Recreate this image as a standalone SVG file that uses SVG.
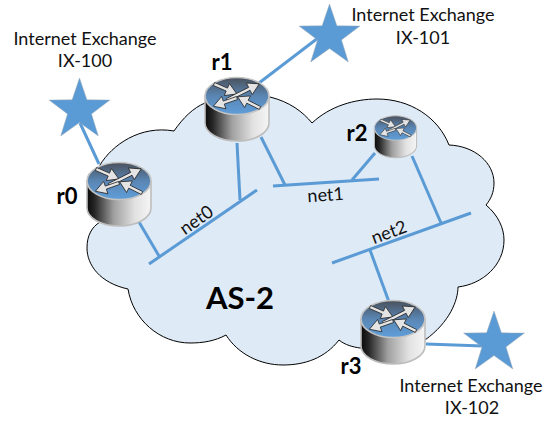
<svg xmlns="http://www.w3.org/2000/svg" xmlns:xlink="http://www.w3.org/1999/xlink" width="552" height="421" viewBox="0 0 552 421">
<style>
.c{stroke:#5b9bd5;stroke-width:3;fill:none}
.t{font-family:"Lato","Liberation Sans",sans-serif;font-size:18px;fill:#111;text-anchor:middle}
.b{font-family:"Lato","Liberation Sans",sans-serif;font-weight:700;font-size:22px;fill:#000;text-anchor:middle}
.s{fill:#5b9bd5;stroke:#9fa8b2;stroke-opacity:.45;stroke-width:1}
.a{fill:#e4e4e4;stroke:#1c1c1c;stroke-width:.7}
</style>
<defs>
<linearGradient id="body" x1="0" x2="1" y1="0" y2="0"><stop offset="0" stop-color="#0a0a0a"/><stop offset=".12" stop-color="#262626"/><stop offset=".42" stop-color="#a0a0a0"/><stop offset=".75" stop-color="#e2e2e2"/><stop offset="1" stop-color="#f5f5f5"/></linearGradient>
<linearGradient id="top" x1="0" x2="0" y1="0" y2="1"><stop offset="0" stop-color="#4a515b"/><stop offset=".5" stop-color="#5a86b4"/><stop offset="1" stop-color="#5f9ed9"/></linearGradient>
<path id="as" class="a" d="M0,-1.6H14V-6.5L25,0L14,6.5V1.6H0Z"/>
<path id="al" class="a" d="M0,-1.6H25V-6.5L36,0L25,6.5V1.6H0Z"/>
<g id="router">
<path d="M-32,0V27A32,18 0 0 0 32,27V0Z" fill="url(#body)" stroke="#bdbdbd" stroke-width="1.6"/>
<ellipse cx="0" cy="0" rx="32" ry="18.5" fill="url(#top)" stroke="#c4c4c4" stroke-width="1.6"/>
<use href="#as" transform="translate(-23,-12) rotate(23.5)"/>
<use href="#al" transform="translate(-10,4) rotate(-26.6)"/>
<use href="#as" transform="translate(0,2) rotate(160.8)"/>
<use href="#as" transform="translate(23,12) rotate(206.6)"/>
</g>
<polygon id="star" class="s" points="0,-32 7.4,-10.2 30.4,-9.9 12,3.9 18.8,25.9 0,12.6 -18.8,25.9 -12,3.9 -30.4,-9.9 -7.4,-10.2"/>
</defs>
<g id="cloud"><path d="M128,289C100,283 87,265 87,248C87,235 92,227 100,222L100,165C112,145 140,125 174,131C183,118 193,108 205,103L270,97C290,102 303,112 312,123C330,106 355,99 377,99C410,99 438,117 449,145C475,146 494,163 494,183C494,192 491,199 486,205C498,215 504,228 504,240C504,265 483,284 458,287C458,300 450,322 425,340L360,348C353,347 345,345 339,340C325,358 305,365 283,365C260,365 238,354 226,335C215,341 203,343 190,343C160,343 133,320 128,289Z" fill="#deeaf6" stroke="#000" stroke-width="1"/></g>
<g id="connectors">
<line class="c" x1="80" y1="123" x2="99" y2="164"/>
<line class="c" x1="318" y1="38" x2="259" y2="83"/>
<line class="c" x1="139" y1="222" x2="159" y2="256"/>
<line class="c" x1="149" y1="264" x2="257" y2="190"/>
<line class="c" x1="237" y1="143" x2="240" y2="200"/>
<line class="c" x1="261" y1="137" x2="285" y2="185"/>
<line class="c" x1="273" y1="186" x2="379" y2="179"/>
<line class="c" x1="375" y1="153" x2="352" y2="180"/>
<line class="c" x1="412" y1="156" x2="441" y2="223"/>
<line class="c" x1="332" y1="263" x2="471" y2="213"/>
<line class="c" x1="370" y1="250" x2="389" y2="302"/>
<line class="c" x1="426" y1="344" x2="483" y2="346"/>
</g>
<g id="net0"><text class="t" transform="translate(200,225) rotate(-35)">net0</text></g>
<g id="net1"><text class="t" transform="translate(326,201) rotate(-4)">net1</text></g>
<g id="net2"><text class="t" transform="translate(391,238) rotate(-20)">net2</text></g>
<g id="as2"><text class="b" x="240" y="309" style="font-size:31px">AS-2</text></g>
<g id="r0"><use href="#router" transform="translate(119,181)"/><text class="b" x="67" y="204">r0</text></g>
<g id="r1"><use href="#router" transform="translate(237,96)"/><text class="b" x="222" y="70">r1</text></g>
<g id="r2"><use href="#router" transform="translate(395.5,128) scale(.66)"/><text class="b" x="357" y="141">r2</text></g>
<g id="r3"><use href="#router" transform="translate(393,319)"/><text class="b" x="351" y="374">r3</text></g>
<g id="ix100"><use href="#star" transform="translate(79.5,110)"/><text class="t" x="85" y="45">Internet Exchange</text><text class="t" x="85" y="67">IX-100</text></g>
<g id="ix101"><use href="#star" transform="translate(329.5,36)"/><text class="t" x="423" y="21">Internet Exchange</text><text class="t" x="423" y="44">IX-101</text></g>
<g id="ix102"><use href="#star" transform="translate(494,343)"/><text class="t" x="471" y="392">Internet Exchange</text><text class="t" x="472" y="414">IX-102</text></g>
</svg>
